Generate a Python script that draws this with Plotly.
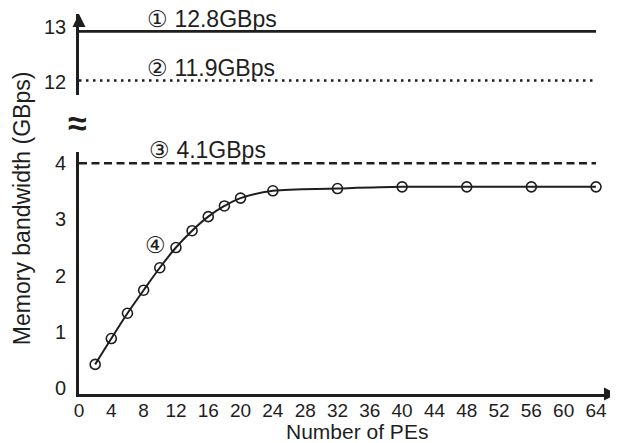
import plotly.graph_objects as go

# ---- data ----
pe_counts = [2, 4, 6, 8, 10, 12, 14, 16, 18, 20, 24, 32, 40, 48, 56, 64]
bandwidth = [0.42, 0.88, 1.33, 1.74, 2.14, 2.50, 2.80, 3.05, 3.24, 3.38,
             3.51, 3.55, 3.58, 3.58, 3.58, 3.58]
x_span = [0, 64]
limit_upper_solid = 12.92    # ① 12.8GBps (drawn position)
limit_upper_dotted = 12.02   # ② 11.9GBps (drawn position)
limit_lower_dashed = 4.0     # ③ 4.1GBps (drawn position)
x_ticks = [0, 4, 8, 12, 16, 20, 24, 28, 32, 36, 40, 44, 48, 52, 56, 60, 64]
y_ticks_lower = [0, 1, 2, 3, 4]
y_ticks_upper = [12, 13]
labels = ["① 12.8GBps", "② 11.9GBps", "③ 4.1GBps", "④"]

INK = "#1e1e1e"
FONT = "Liberation Sans, Arial, sans-serif"

fig = go.Figure()

fig.add_trace(go.Scatter(
    x=x_span, y=[limit_upper_solid] * 2, xaxis="x", yaxis="y2",
    mode="lines", line=dict(color=INK, width=2.6), showlegend=False))
fig.add_trace(go.Scatter(
    x=x_span, y=[limit_upper_dotted] * 2, xaxis="x", yaxis="y2",
    mode="lines", line=dict(color=INK, width=2.6, dash="2.5px,4.5px"), showlegend=False))
fig.add_trace(go.Scatter(
    x=x_span, y=[limit_lower_dashed] * 2, xaxis="x", yaxis="y",
    mode="lines", line=dict(color=INK, width=2.6, dash="8px,4.5px"), showlegend=False))
fig.add_trace(go.Scatter(
    x=pe_counts, y=bandwidth, xaxis="x", yaxis="y",
    mode="lines+markers", line=dict(color=INK, width=2, shape="spline"),
    marker=dict(symbol="circle-open", size=10, color=INK, line=dict(width=1.6)),
    showlegend=False))

# The page body has an 8px margin, so the figure is 8px smaller and shifted.
fig.update_layout(
    width=610, height=435,
    margin=dict(l=71, r=1, t=6, b=49),
    paper_bgcolor="white", plot_bgcolor="white",
    xaxis=dict(range=[0, 66.6], domain=[0, 1], anchor="y",
               tickvals=x_ticks, ticks="", ticklabelstandoff=-3,
               showgrid=False, zeroline=False,
               showline=True, linecolor=INK, linewidth=2.6,
               tickfont=dict(family=FONT, size=19, color=INK)),
    yaxis=dict(range=[-0.107, 4.2], domain=[0, 0.6368], anchor="x",
               tickvals=y_ticks_lower, ticks="outside", ticklen=6,
               tickcolor="rgba(0,0,0,0)", showgrid=False, zeroline=False,
               showline=True, linecolor=INK, linewidth=2.6,
               tickfont=dict(family=FONT, size=20, color=INK)),
    yaxis2=dict(range=[11.755, 13.238], domain=[0.7868, 1], anchor="x",
                tickvals=y_ticks_upper, ticks="outside", ticklen=6,
                tickcolor="rgba(0,0,0,0)", showgrid=False, zeroline=False,
                showline=True, linecolor=INK, linewidth=2.6,
                tickfont=dict(family=FONT, size=20, color=INK)),
    hovermode=False,
)

afont = dict(family=FONT, size=23, color=INK)
annotations = [
    dict(x=8.2, y=limit_upper_solid, xref="x", yref="y2", text=labels[0],
         xanchor="left", yanchor="bottom", yshift=-3, showarrow=False, font=afont),
    dict(x=8.2, y=limit_upper_dotted, xref="x", yref="y2", text=labels[1],
         xanchor="left", yanchor="bottom", yshift=-2, showarrow=False, font=afont),
    dict(x=8.4, y=limit_lower_dashed, xref="x", yref="y", text=labels[2],
         xanchor="left", yanchor="bottom", yshift=-2, showarrow=False, font=afont),
    dict(x=9.44, y=2.54, xref="x", yref="y", text=labels[3],
         xanchor="center", yanchor="middle", showarrow=False, font=afont),
    # approximately-equal break mark
    dict(x=-0.002, y=0.713, xref="paper", yref="paper", text="<b>≈</b>",
         xanchor="center", yanchor="middle", showarrow=False,
         font=dict(family=FONT, size=34, color=INK)),
    # axis titles
    dict(x=-0.106, y=0.489, xref="paper", yref="paper",
         text="Memory bandwidth (GBps)", textangle=-90,
         xanchor="center", yanchor="middle", showarrow=False,
         font=dict(family=FONT, size=23, color=INK)),
    dict(x=0.517, y=-0.1, xref="paper", yref="paper", text="Number of PEs",
         xanchor="center", yanchor="middle", yshift=1, showarrow=False,
         font=dict(family=FONT, size=21, color=INK)),
    # arrowheads on the axes
    dict(x=66.6, y=-0.107, xref="x", yref="y", ax=-12, ay=0, text="",
         showarrow=True, arrowhead=2, arrowsize=1, arrowwidth=2.6,
         arrowcolor=INK, standoff=0),
    dict(x=0, y=13.238, xref="x", yref="y2", ax=0, ay=12, text="",
         showarrow=True, arrowhead=2, arrowsize=1, arrowwidth=2.6,
         arrowcolor=INK, standoff=0),
]
fig.update_layout(annotations=annotations)

fig.write_html("out.html")
